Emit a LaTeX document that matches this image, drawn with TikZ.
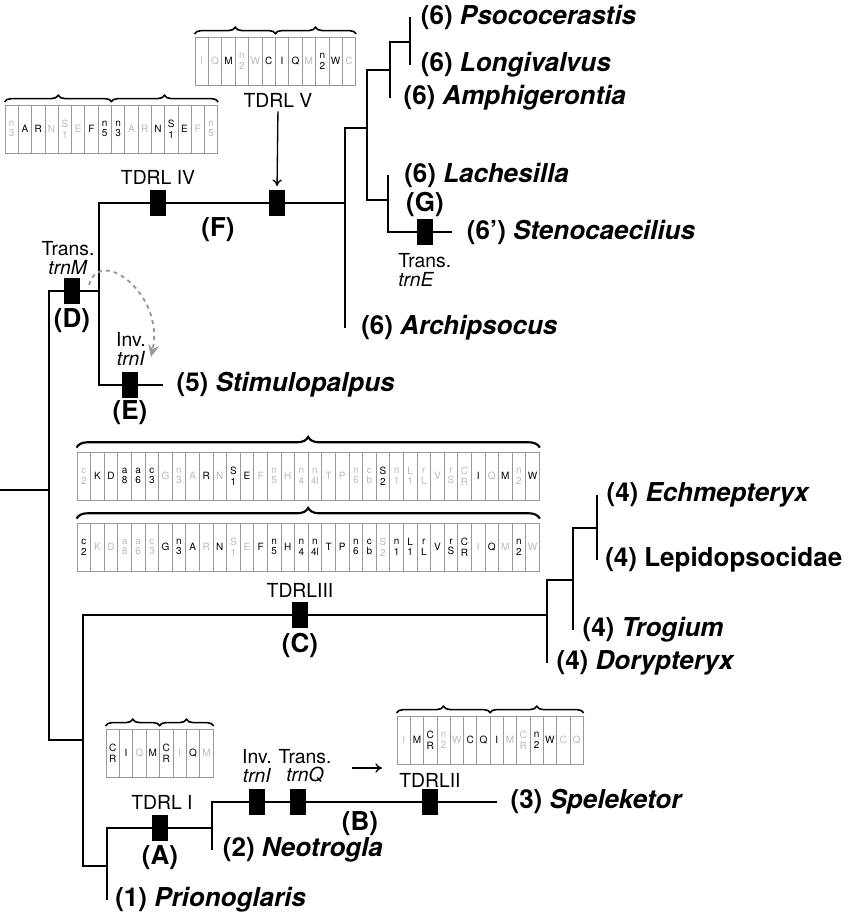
\documentclass[tikz,border=0pt]{standalone}
\usepackage{fontspec}
\setmainfont{TeX Gyre Heros}
\usetikzlibrary{arrows.meta,positioning,calc,decorations.pathreplacing}
\definecolor{kept}{HTML}{000000}
\definecolor{lost}{HTML}{BBBBBB}
\definecolor{cellgrey}{HTML}{999999}

% one row of gene cells: name, left x, centre y, cell width, list of label/colour
\newcommand{\geneorder}[5]{%
  \foreach \g/\c [count=\i] in {#5}
    \node[gene,minimum width=#4*0.75pt,text=\c] (#1\i) at ({#2+(\i-0.5)*#4},#3) {\g};%
}

\begin{document}
\begin{tikzpicture}[x=0.75pt,y=-0.75pt,
  branch/.style={line width=2pt},
  event/.style={fill=black,minimum width=12pt,minimum height=19pt,inner sep=0pt},
  taxon/.style={anchor=west,inner sep=0pt,font=\fontsize{19.5}{21}\selectfont\bfseries},
  clade/.style={inner sep=0pt,font=\fontsize{19.5}{21}\selectfont\bfseries},
  evlab/.style={inner sep=0pt,align=center,font=\fontsize{14.5}{14}\selectfont},
  gene/.style={draw=cellgrey,line width=0.6pt,inner sep=0pt,minimum height=36pt,align=center,font=\fontsize{7.5}{8}\selectfont},
  dup/.style={decorate,decoration={brace,amplitude=5pt,raise=2pt},line width=1.2pt},
  bigdup/.style={decorate,decoration={brace,amplitude=8pt,raise=3pt},line width=1.6pt},
]
\useasboundingbox (0,0) rectangle (849,914);

% tree nodes
\coordinate (base) at (0,490);
\coordinate (root) at (49,490);
\coordinate (nD) at (99,291);
\coordinate (nF) at (345,203);
\coordinate (nPs) at (367,128);
\coordinate (nAm) at (390,70);
\coordinate (nPL) at (410,42);
\coordinate (nLa) at (388,200);
\coordinate (nT) at (83,740);
\coordinate (nC) at (547,615);
\coordinate (nTr) at (573,580);
\coordinate (nEL) at (597,528);
\coordinate (nA) at (107,866);
\coordinate (nN) at (212,828);

% leaves
\coordinate (psoco) at (410,17);
\coordinate (longi) at (410,65);
\coordinate (amph) at (390,98);
\coordinate (lache) at (388,175);
\coordinate (steno) at (452,232);
\coordinate (archi) at (345,328);
\coordinate (stim) at (163,385);
\coordinate (echm) at (597,495);
\coordinate (lepi) at (597,560);
\coordinate (trog) at (573,630);
\coordinate (dory) at (547,663);
\coordinate (spel) at (497,802);
\coordinate (neot) at (212,850);
\coordinate (prio) at (107,900);

% branches
\draw[branch] (base) -- (root);
\draw[branch] (nD) -| (root) |- (nT);
\draw[branch] (nF) -| (nD) |- (stim);
\draw[branch] (nPs) -| (nF) -- (archi);
\draw[branch] (nAm) -| (nPs) |- (nLa);
\draw[branch] (nPL) -| (nAm) -- (amph);
\draw[branch] (psoco) -- (longi);
\draw[branch] (lache) -- (nLa) |- (steno);
\draw[branch] (nC) -| (nT) |- (nA);
\draw[branch] (nTr) -| (nC) -- (dory);
\draw[branch] (nEL) -| (nTr) -- (trog);
\draw[branch] (echm) -- (lepi);
\draw[branch] (nN) -| (nA) -- (prio);
\draw[branch] (neot) -- (nN) |- (spel);

% taxa
\node[taxon] (tPsoco) at ([xshift=8]psoco) {(6) \textit{Psococerastis}};
\node[taxon] (tLongi) at ([xshift=8]longi) {(6) \textit{Longivalvus}};
\node[taxon] (tAmph) at ([xshift=10]amph) {(6) \textit{Amphigerontia}};
\node[taxon] (tLache) at ([xshift=12]lache) {(6) \textit{Lachesilla}};
\node[taxon] (tSteno) at ([xshift=11]steno) {(6’) \textit{Stenocaecilius}};
\node[taxon] (tArchi) at ([xshift=12]archi) {(6) \textit{Archipsocus}};
\node[taxon] (tStim) at ([xshift=10]stim) {(5) \textit{Stimulopalpus}};
\node[taxon] (tEchm) at ([xshift=7]echm) {(4) \textit{Echmepteryx}};
\node[taxon] (tLepi) at ([xshift=6]lepi) {(4) Lepidopsocidae};
\node[taxon] (tTrog) at ([xshift=7]trog) {(4) \textit{Trogium}};
\node[taxon] (tDory) at ([xshift=7]dory) {(4) \textit{Dorypteryx}};
\node[taxon] (tSpel) at ([xshift=10]spel) {(3) \textit{Speleketor}};
\node[taxon] (tNeot) at ([xshift=8]neot) {(2) \textit{Neotrogla}};
\node[taxon] (tPrio) at ([xshift=6]prio) {(1) \textit{Prionoglaris}};

% events on branches
\node[event] (evD) at (72,291) {};
\node[event] (evE) at (130,385) {};
\node[event] (evIV) at (158,203) {};
\node[event] (evV) at (277,203) {};
\node[event] (evG) at (425,232) {};
\node[event] (evC) at (300,615) {};
\node[event] (evA) at (160,828) {};
\node[event] (evInv) at (257,802) {};
\node[event] (evTrn) at (298,802) {};
\node[event] (evII) at (430,802) {};

\node[clade] (cD) at (72,321) {(D)};
\node[clade] (cE) at (130,413) {(E)};
\node[clade] (cF) at (218,230) {(F)};
\node[clade] (cG) at (425,204) {(G)};
\node[clade] (cC) at (300,645) {(C)};
\node[clade] (cB) at (360,824) {(B)};
\node[clade] (cA) at (160,858) {(A)};

\node[evlab] (lbD) at (68,258) {Trans.\\\textit{trnM}};
\node[evlab] (lbE) at (131,349) {Inv.\\\textit{trnI}};
\node[evlab,align=left,anchor=west] (lbG) at (398,270) {Trans.\\\textit{trnE}};
\node[evlab] (lbInv) at (257,766) {Inv.\\\textit{trnI}};
\node[evlab] (lbTrn) at (305,766) {Trans.\\\textit{trnQ}};
\node[evlab] (lbIV) at (158,177) {TDRL IV};
\node[evlab] (lbV) at (278,100) {TDRL V};
\node[evlab] (lbIII) at (300,590) {TDRLIII};
\node[evlab] (lbI) at (162,802) {TDRL I};
\node[evlab] (lbII) at (430,780) {TDRLII};

% gene orders
\geneorder{iv}{5}{129}{13.3}{{n\\3}/lost, A/kept, R/kept, N/lost, {S\\1}/lost, E/lost, F/kept, {n\\5}/kept,
  {n\\3}/kept, A/lost, R/lost, N/kept, {S\\1}/kept, E/kept, F/lost, {n\\5}/lost}
\draw[dup] (iv1.north west) -- (iv8.north east);
\draw[dup] (iv9.north west) -- (iv16.north east);

\geneorder{v}{195}{61}{13.4}{I/lost, Q/lost, M/kept, {n\\2}/lost, W/lost, C/kept,
  I/kept, Q/kept, M/lost, {n\\2}/kept, W/kept, C/lost}
\draw[dup] (v1.north west) -- (v6.north east);
\draw[dup] (v7.north west) -- (v12.north east);

\geneorder{ct}{77}{476}{13.6}{{c\\2}/lost, K/kept, D/kept, {a\\8}/kept, {a\\6}/kept, {c\\3}/kept, G/lost,
  {n\\3}/lost, A/lost, R/kept, N/lost, {S\\1}/kept, E/kept, F/lost, {n\\5}/lost, H/lost, {n\\4}/lost,
  {n\\4l}/lost, T/lost, P/lost, {n\\6}/lost, {c\\b}/lost, {S\\2}/kept, {n\\1}/lost, {L\\1}/lost,
  {r\\L}/lost, V/lost, {r\\S}/lost, {C\\R}/lost, I/kept, Q/lost, M/kept, {n\\2}/lost, W/kept}
\draw[bigdup] (ct1.north west) -- (ct34.north east);

\geneorder{cb}{77}{547}{13.6}{{c\\2}/kept, K/lost, D/lost, {a\\8}/lost, {a\\6}/lost, {c\\3}/lost, G/kept,
  {n\\3}/kept, A/kept, R/lost, N/kept, {S\\1}/lost, E/lost, F/kept, {n\\5}/kept, H/kept, {n\\4}/kept,
  {n\\4l}/kept, T/kept, P/kept, {n\\6}/kept, {c\\b}/kept, {S\\2}/lost, {n\\1}/kept, {L\\1}/kept,
  {r\\L}/kept, V/kept, {r\\S}/kept, {C\\R}/kept, I/lost, Q/kept, M/lost, {n\\2}/kept, W/lost}
\draw[bigdup] (cb1.north west) -- (cb34.north east);

\geneorder{i}{106}{753}{13.4}{{C\\R}/kept, I/kept, Q/lost, M/kept, {C\\R}/kept, I/lost, Q/kept, M/lost}
\draw[dup] (i1.north west) -- (i4.north east);
\draw[dup] (i5.north west) -- (i8.north east);

\geneorder{ii}{397}{740}{13.3}{I/lost, M/kept, {C\\R}/kept, {n\\2}/lost, W/lost, C/kept, Q/kept,
  I/kept, M/lost, {C\\R}/lost, {n\\2}/kept, W/kept, C/lost, Q/lost}
\draw[dup] (ii1.north west) -- (ii7.north east);
\draw[dup] (ii8.north west) -- (ii14.north east);

% arrows
\draw[-{To[length=5pt,width=7pt]},line width=1pt,shorten <=3pt,shorten >=3pt] (lbV.south) -- (evV.north);
\coordinate (qa) at (352,768);
\coordinate (qb) at (382,768);
\draw[-{To[length=5pt,width=7pt]},line width=1pt] (qa) -- (qb);
\coordinate (srcD) at (89,285);
\coordinate (tipE) at (151,357);
\draw[cellgrey,dashed,line width=1.4pt,-{Stealth[length=9pt,width=8pt]}] (srcD) .. controls (100,245) and (165,295) .. (tipE);
\end{tikzpicture}
\end{document}
